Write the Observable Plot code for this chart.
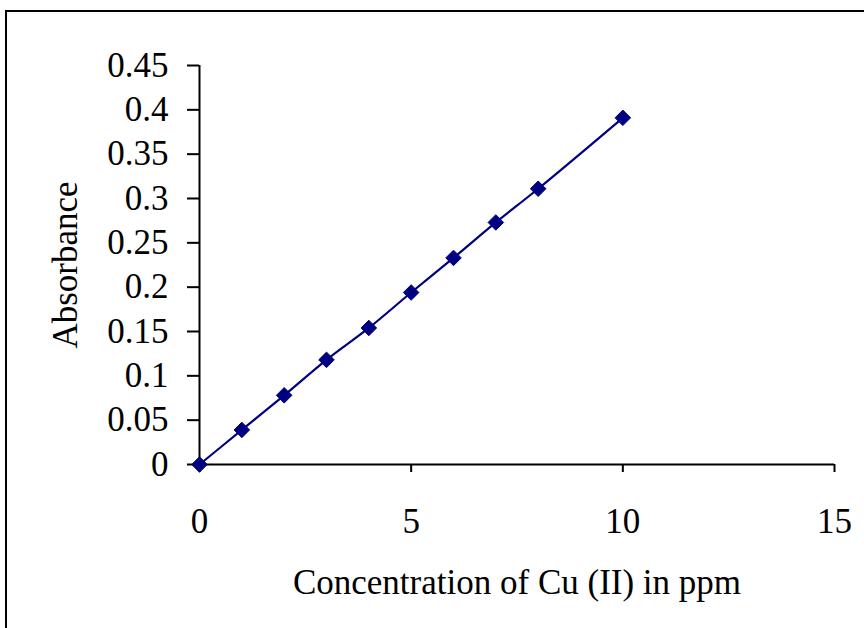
<!DOCTYPE html>
<html>
<head>
<meta charset="utf-8">
<script src="https://cdn.jsdelivr.net/npm/d3@7"></script>
<script src="https://cdn.jsdelivr.net/npm/@observablehq/plot@0.6"></script>
<style>
  html, body { margin: 0; padding: 0; background: #fff; }
  #wrap { position: relative; width: 864px; height: 628px; overflow: hidden; }
  #frame { position: absolute; left: 5px; top: 10px; width: 900px; height: 700px;
           border-top: 2px solid #000; border-left: 2px solid #000; pointer-events: none; }
</style>
</head>
<body>
<div id="wrap"><div id="chart"></div><div id="frame"></div></div>
<script>
const concentration = [0, 1, 2, 3, 4, 5, 6, 7, 8, 10];
const absorbance = [0, 0.039, 0.078, 0.118, 0.154, 0.194, 0.233, 0.273, 0.311, 0.391];
const xTicks = [0, 5, 10, 15];
const yTicks = [0, 0.05, 0.1, 0.15, 0.2, 0.25, 0.3, 0.35, 0.4, 0.45];
const xLabel = "Concentration of Cu (II) in ppm";
const yLabel = "Absorbance";

const data = concentration.map((c, i) => ({c, a: absorbance[i]}));
const navy = "#000080";
const fs = 35;

const chart = Plot.plot({
  width: 864,
  height: 628,
  marginLeft: 199,
  marginRight: 30,
  marginTop: 65,
  marginBottom: 164,
  style: {fontFamily: "'Liberation Serif', 'Times New Roman', serif", fontSize: fs + "px", color: "#000", background: "#fff"},
  x: {domain: [0, 15]},
  y: {domain: [0, 0.45]},
  marks: [
    Plot.axisX({ticks: xTicks, tickSize: 8, tickPadding: 36, strokeWidth: 2, label: null, fontSize: fs}),
    Plot.axisY({ticks: yTicks, tickSize: 12, tickPadding: 19, strokeWidth: 2, tickFormat: d => String(+d.toFixed(2)), label: null, fontSize: fs}),
    Plot.text([xLabel], {frameAnchor: "bottom", dy: 118, lineAnchor: "middle", textAnchor: "middle", fontSize: fs, fill: "#000"}),
    Plot.text([yLabel], {frameAnchor: "left", rotate: -90, dx: -134, lineAnchor: "middle", textAnchor: "middle", fontSize: fs, fill: "#000"}),
    Plot.ruleX([0], {stroke: "#000", strokeWidth: 2}),
    Plot.ruleY([0], {stroke: "#000", strokeWidth: 2}),
    Plot.line(data, {x: "c", y: "a", stroke: navy, strokeWidth: 2.2, curve: "catmull-rom"}),
    Plot.dot(data, {x: "c", y: "a", symbol: "diamond2", r: 7, fill: navy, stroke: navy, strokeWidth: 1})
  ]
});
document.getElementById("chart").appendChild(chart);
</script>
</body>
</html>
